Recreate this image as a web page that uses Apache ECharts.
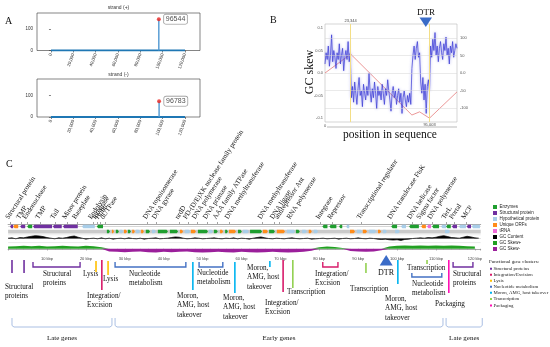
<!DOCTYPE html>
<html><head><meta charset="utf-8">
<script src="https://cdn.jsdelivr.net/npm/echarts@6/dist/echarts.min.js"></script>
<style>html,body{margin:0;padding:0;background:#fff}#c{width:550px;height:347px}</style>
</head><body><div id="c"></div>
<script>
// ================= DATA =================
// Panel A: read-mapping peaks per strand
const genomeLenBp = 121500;
const panelATicks = [0, 20000, 40000, 60000, 80000, 100000, 120000];
const plusPeakPos = [96544];
const plusPeakCount = [146];
const minusPeakPos = [96783];
const minusPeakCount = [73];

// Panel B: GC skew (1 kbp steps) and cumulative GC skew
const skewStepBp = 1000;
const gcSkew = [
  0.02, 0.045, 0.03, 0.06, 0.015, 0.04, 0.085, 0.025, 0.05, 0.035, 0.01, 0.045, 0.03, 0.065, 0.02, 0.04, 0.055, 0.005, 0.035, 0.05, 0.03, 0.07, 0.025, 0.045,
  -0.055, -0.03, -0.065, -0.02, -0.045, -0.07, -0.035, -0.01, -0.05, -0.04, -0.075, -0.025, -0.045, -0.06, -0.03, -0.05, 0.0, -0.04, -0.065, -0.035,
  -0.055, -0.02, -0.045, -0.08, -0.03, -0.05, -0.04, -0.06, -0.025, -0.045, -0.07, -0.035, -0.05, -0.015, -0.04, -0.06, -0.085, -0.045, -0.03, -0.055,
  -0.04, -0.07, -0.05, -0.035, -0.065, -0.045, -0.09, -0.055, -0.04, -0.06, -0.075, -0.05, -0.065, -0.045, -0.07,
  0.01, 0.04, 0.06, 0.03, 0.055, 0.07, 0.035, 0.045,
  -0.02, -0.045, -0.01, -0.06, -0.025, -0.09, -0.03, -0.015, -0.04,
  0.06, 0.035, 0.075, 0.05, 0.09, 0.04, 0.06, 0.025, 0.055, 0.07, 0.045, 0.03, 0.065, 0.05, 0.08, 0.04, 0.055, 0.02, 0.06, 0.045, 0.07, 0.035, 0.05, 0.065, 0.055
];
const cumSkewPos = [0, 23344, 79000, 86000, 95003, 120000];
const cumSkewVal = [0, 54, -120, -111, -129, -54];
const skewMarkPos = [23344, 95003];
const skewMarkText = ['23,344', '95,003'];
const skewLeftTicks = [-0.1, -0.05, 0, 0.05, 0.1];
const skewRightTicks = [-100, -50, 0, 50, 100];

// Panel C: GC skew track (2 kbp windows, smoother) and GC content deviation per kbp
const trackSkewStepKbp = 2;
const gcSkewTrack = [
  0.03, 0.035, 0.04, 0.035, 0.04, 0.03, 0.035, 0.04, 0.035, 0.03, 0.04, 0.035, 0.02,
  -0.035, -0.04, -0.045, -0.04, -0.035, -0.045, -0.05, -0.04, -0.045, -0.04, -0.035, -0.045, -0.05, -0.045,
  -0.04, -0.045, -0.05, -0.04, -0.045, -0.05, -0.045, -0.04, -0.045, -0.05, -0.045, -0.04, -0.025,
  0.02, 0.03, 0.025, 0.01,
  -0.03, -0.035, -0.04, -0.035, -0.02,
  0.03, 0.04, 0.045, 0.04, 0.045, 0.04, 0.045, 0.04, 0.045, 0.04, 0.035, 0.03
];
const gcContent = [
  0.1, 0.2, -0.1, 0.3, 0.2, 0.5, 0.7, 0.9, 0.8, 0.6, 0.3, 0.1, -0.1, 0.2, 0.1, 0.3, 0.6, 0.8, 0.4, 0.1, -0.2, 0.0, 0.1, -0.1, 0.2, -0.1,
  0.1, -0.2, 0.0, 0.1, -0.1, 0.2, 0.0, -0.1, 0.1, -0.2, 0.0, 0.1, 0.2, -0.1, 0.0, 0.1, 0.3, 0.5, 0.4, 0.1, -0.1, 0.0, 0.2, 0.1, -0.1, 0.0,
  0.1, 0.2, 0.0, -0.1, 0.1, 0.0, 0.2, -0.1, 0.1, 0.0, -0.2, 0.1, 0.3, 0.5, 0.2, 0.0, -0.1, 0.1, 0.0, -0.1, 0.1, 0.2, 0.0, -0.1, 0.0, 0.1, -0.2, -0.1,
  0.0, 0.1, -0.1, 0.0, 0.1, -0.2, 0.0, 0.1, -0.1, 0.0, 0.2, 0.0, -0.1, 0.1, 0.0, -0.2, -0.3, -0.2, -0.4, -0.5, -0.4, -0.6, -0.3, -0.2,
  0.0, 0.1, 0.2, 0.1, 0.3, 0.2, 0.4, 0.7, 0.9, 0.6, 0.3, 0.2, 0.1, 0.4, 0.7, 0.5, 0.2, 0.1
];
// genes: [start kbp, end kbp, category]  E=enzyme S=structural H=hypothetical U=unique ORF R=tRNA
const genesRow1 = [
  [0.5,1.3,'S'],[1.3,2.6,'U'],[3.1,4.4,'S'],[4.9,6.2,'E'],[6.4,11.3,'S'],[11.5,13.8,'S'],[14.1,17.9,'S'],[19.0,22.3,'H'],[22.8,24.4,'E'],
  [80.8,82.1,'E'],[82.6,84.4,'E'],[85.1,85.9,'E'],[86.9,87.7,'H'],
  [98.5,100.0,'E'],[101.0,102.3,'H'],[103.1,105.6,'E'],[106.2,107.4,'U'],[107.7,108.7,'R'],[109.0,110.8,'E'],[111.3,112.6,'H'],
  [112.6,113.8,'E'],[114.1,115.4,'S'],[115.9,117.7,'H'],[117.9,119.0,'S'],[119.2,121.3,'H']
];
const genesRow2 = [
  [25.4,26.2,'E'],[26.7,27.2,'U'],[27.7,28.5,'E'],[28.8,29.5,'H'],[29.8,30.6,'U'],[30.8,31.6,'E'],[31.9,32.6,'U'],[32.9,33.9,'H'],
  [34.2,34.9,'U'],[35.4,36.5,'E'],[37.0,38.0,'H'],[38.5,41.1,'E'],[41.6,43.7,'E'],[44.2,45.0,'U'],[45.5,46.8,'H'],[47.0,48.3,'U'],
  [48.8,51.4,'E'],[51.6,52.7,'H'],[52.9,53.9,'E'],[54.5,55.3,'U'],[55.8,56.5,'E'],[56.8,58.6,'U'],[59.1,60.1,'E'],[60.4,61.9,'H'],
  [62.2,65.3,'E'],[65.5,66.8,'U'],[67.1,68.6,'E'],[69.1,71.2,'U'],[71.7,73.8,'H'],[74.0,75.0,'E'],[75.6,76.8,'H'],[77.3,78.1,'U'],
  [78.6,79.7,'H'],[87.9,89.2,'U'],[89.7,91.0,'H'],[91.2,92.3,'U'],[92.8,94.6,'H'],[95.1,95.9,'U'],[96.4,97.4,'H'],[99.5,100.7,'H'],[112.3,113.6,'H']
];
const geneLabelKbp = [0.5,3.3,4.9,8.2,12.0,15.1,17.7,21.8,22.8,23.6,24.9,35.9,38.2,44.1,46.2,48.5,51.3,53.8,56.9,65.4,68.5,69.7,72.8,80.3,83.3,90.8,98.7,103.8,106.2,109.0,112.6,114.6,117.7];
const geneLabelText = ['Structural protein','TMP','Endonuclease','TMP','Tail','Minor protein','Baseplate','Endolysin','Integrase','Holin','dUTPase',
  'DNA topoisomerase','DNA gyrase','nrdD','PD-(D/E)XK nuclease family protein','DNA polymerase','DNA primase','AAA family ATPase','DNA methyltransferase',
  'DNA methyltransferase','DNA ligase','antirepressor Ant','RNA polymerase','Integrase','Repressor','Transcriptional regulator','DNA translocase FtsK',
  'DNA helicase','Sigma factor','DNA polymerase','TerL','Portal','MCP'];
const geneCatKeys = ['E','S','H','U','R'];
const trackLegendNames = ['Enzymes','Structural protein','Hypothetical protein','Unique ORFs','tRNA','GC Content','GC Skew+','GC Skew-'];

// functional clusters (S struct, I integration, L lysis, N nucleotide, M moron, T transcription, P packaging)
const clusterKeys = ['S','I','L','N','M','T','P'];
const clusterNames = ['Structural proteins','Integration/Excision','Lysis','Nucleotide metabolism','Moron, AMG, host takeover','Transcription','Packaging'];
const clusterBarKbp = [1.0, 4.1, 22.6, 24.1, 25.7, 47.5, 58.3, 67.3, 70.7, 73.2, 92.0, 100.2, 107.7, 113.3];
const clusterBarCat = ['S','S','L','I','L','M','M','M','I','T','T','M','T','P'];
const clusterBracketStart = [6.4, 27.5, 49.1, 80.9, 103.8, 114.4];
const clusterBracketEnd = [18.5, 45.7, 55.2, 84.8, 111.5, 119.5];
const clusterBracketCat = ['S','N','N','I','N','S'];
const clusterText = ['Structural\nproteins','Structural\nproteins','Lysis','Lysis','Integration/\nExcision','Nucleotide\nmetabolism',
  'Moron,\nAMG, host\ntakeover','Nucleotide\nmetabolism','Moron,\nAMG, host\ntakeover','Moron,\nAMG, host\ntakeover','Integration/\nExcision',
  'Transcription','Integration/\nExcision','Transcription','DTR','Moron,\nAMG, host\ntakeover','Transcription','Nucleotide\nmetabolism','Packaging','Structural\nproteins'];
const dtrKbp = 97.2;
const geneGroupStart = [1.0, 27.5, 112.6];
const geneGroupEnd = [26.7, 111.8, 121.9];
const geneGroupName = ['Late genes','Early genes','Late genes'];

// ================= LAYOUT / STYLE =================
const serif = '"Liberation Serif","Times New Roman",serif';
const sans = '"Liberation Sans",Arial,sans-serif';
const geneColors = ['#1f9e2f','#7030a0','#a8cde8','#ff8c1a','#f06ad8'];
const trackLegendColors = ['#1f9e2f','#7030a0','#a8cde8','#ff8c1a','#f06ad8','#000000','#22a022','#9b1f9b'];
const clusterColors = ['#7030a0','#d81b6a','#ffc000','#4472c4','#00b4f0','#92d050','#ff10b4'];
const clusterBarY = [[260,273],[260,273],[261,272],[260,290],[261,275],[262,290],[262,293],[261,267],[260,292],[260,288],[263,273],[260,284],[260,264],[260,293]];
const clusterBracketY = [[262,267],[262,267],[262,267],[262,267],[273,277],[262,267]];
const clusterTextPos = [[5,282],[43,269],[83,269],[103,274],[87,291],[129,269],[177,291],[197,268],[223,293],[247,263],[265,298],
  [287,287],[315,269],[350,284],[378,268],[385,294],[407,263],[412,279],[435,299],[453,269]];

const G = {left: 8.1, width: 472.6};

const skewPos = gcSkewTrack.map(v => Math.max(v, 0));
const skewNeg = gcSkewTrack.map(v => Math.min(v, 0));
const geneData = genesRow1.map(g => [g[0], g[1], 0.5, geneCatKeys.indexOf(g[2])])
  .concat(genesRow2.map(g => [g[0], g[1], 1.5, geneCatKeys.indexOf(g[2])]));

function stemX(gi) {
  return {gridIndex: gi, type: 'value', min: -12500, max: 133400,
    axisLine: {show: false}, splitLine: {show: false},
    axisTick: {customValues: panelATicks, length: 2, lineStyle: {color: '#333', width: 0.6}},
    axisLabel: {customValues: panelATicks, rotate: 70, fontSize: 4.5, margin: 3, color: '#333', fontFamily: sans}};
}
function stemY(gi) {
  return {gridIndex: gi, type: 'value', min: 0, max: 175,
    axisLine: {show: false}, splitLine: {show: false},
    axisTick: {customValues: [0, 100], length: 2, lineStyle: {color: '#333', width: 0.6}},
    axisLabel: {customValues: [0, 100], fontSize: 4.5, margin: 4, color: '#333', fontFamily: sans}};
}
function stemSeries(xi, pos, cnt) {
  return [
    {type: 'line', xAxisIndex: xi, yAxisIndex: xi, data: [[0, 0], [genomeLenBp - 1500, 0]], symbol: 'none',
     lineStyle: {color: '#1f77b4', width: 2}, z: 2},
    {type: 'line', xAxisIndex: xi, yAxisIndex: xi, data: pos.flatMap((p, i) => [[p, 0], [p, cnt[i]]]), symbol: 'none',
     lineStyle: {color: '#4f97d2', width: 1.4}, z: 3},
    {type: 'scatter', xAxisIndex: xi, yAxisIndex: xi, data: pos.map((p, i) => [p, cnt[i]]), symbolSize: 4,
     itemStyle: {color: '#e8231f'}, z: 4,
     label: {show: true, position: 'right', distance: 3, formatter: p => String(p.value[0]),
       backgroundColor: '#fff', borderColor: '#777', borderWidth: 0.6, borderRadius: 2, padding: [1.5, 2, 1, 2],
       fontSize: 7, fontFamily: sans, color: '#222'}}
  ];
}

const option = {
  animation: false,
  backgroundColor: '#fff',
  grid: [
    {left: 37, top: 13, width: 163, height: 37.5, show: true, borderColor: '#333', borderWidth: 0.6},
    {left: 37, top: 79, width: 163, height: 38, show: true, borderColor: '#333', borderWidth: 0.6},
    {left: 325, top: 24, width: 132, height: 98, show: true, borderColor: '#bbb', borderWidth: 0.6},
    {left: G.left, top: 224, width: G.width, height: 10},
    {left: G.left, top: 235, width: G.width, height: 7},
    {left: G.left, top: 243.5, width: G.width, height: 10.5}
  ],
  xAxis: [
    stemX(0), stemX(1),
    {gridIndex: 2, type: 'value', min: 0, max: 120000, axisLine: {show: false}, axisTick: {show: false}, splitLine: {show: false},
     axisLabel: {customValues: [0], fontSize: 4, margin: 2, color: '#555', fontFamily: sans}},
    {gridIndex: 3, type: 'value', min: 0, max: 121.5, position: 'top', offset: 2,
     axisLine: {show: true, lineStyle: {color: '#aaa', width: 1}},
     axisTick: {show: true, customValues: geneLabelKbp, length: 2, lineStyle: {color: '#666', width: 0.6}},
     axisLabel: {show: false}, splitLine: {show: false}},
    {gridIndex: 4, type: 'value', min: 0, max: 121.5, show: false},
    {gridIndex: 5, type: 'value', min: 0, max: 121.5, interval: 10, position: 'bottom',
     axisLine: {show: true, lineStyle: {color: '#aaa', width: 1}},
     axisTick: {show: true, length: 1.8, lineStyle: {color: '#888', width: 0.6}},
     minorTick: {show: true, splitNumber: 5, length: 1, lineStyle: {color: '#999', width: 0.5}},
     axisLabel: {showMaxLabel: false, formatter: v => v === 0 ? '' : v + ' kbp', fontSize: 4, margin: 3, color: '#444', fontFamily: sans},
     splitLine: {show: false}}
  ],
  yAxis: [
    stemY(0), stemY(1),
    {gridIndex: 2, type: 'value', min: -0.109, max: 0.109, axisLine: {show: false}, axisTick: {show: false}, splitLine: {show: false},
     axisLabel: {customValues: skewLeftTicks, formatter: v => v === 0 ? '0.0' : String(v), fontSize: 4, margin: 2, color: '#555', fontFamily: sans}},
    {gridIndex: 2, type: 'value', position: 'right', min: -140, max: 140, axisLine: {show: false}, axisTick: {show: false}, splitLine: {show: false},
     axisLabel: {customValues: skewRightTicks, formatter: v => v === 0 ? '0.0' : String(v), fontSize: 4, margin: 3, color: '#555', fontFamily: sans}},
    {gridIndex: 3, type: 'value', min: 0, max: 2, inverse: true, show: false},
    {gridIndex: 4, type: 'value', min: -1.1, max: 1.1, show: false},
    {gridIndex: 5, type: 'value', min: -0.07, max: 0.07, show: false}
  ],
  series: [
    ...stemSeries(0, plusPeakPos, plusPeakCount),
    ...stemSeries(1, minusPeakPos, minusPeakCount),
    {type: 'line', xAxisIndex: 2, yAxisIndex: 3, z: 1, symbol: 'none',
     data: cumSkewPos.map((p, i) => [p, cumSkewVal[i]]),
     lineStyle: {color: '#e26a6a', width: 0.7},
     markLine: {silent: true, symbol: ['none', 'none'], label: {show: false},
       lineStyle: {color: '#d4d4d4', width: 0.5, type: 'solid'},
       data: skewRightTicks.map(v => ({yAxis: v}))}},
    {type: 'line', xAxisIndex: 2, yAxisIndex: 2, z: 3, symbol: 'none',
     data: gcSkew.map((v, i) => [i * skewStepBp, v]),
     lineStyle: {color: '#3838d4', width: 0.7, shadowColor: 'rgba(90,90,225,0.7)', shadowBlur: 3},
     markLine: {silent: true, symbol: ['none', 'none'],
       lineStyle: {color: '#f3de86', width: 1, type: 'solid'},
       label: {fontSize: 4, color: '#444', fontFamily: sans},
       data: [{xAxis: skewMarkPos[0], label: {formatter: skewMarkText[0], position: 'end', distance: 1}},
              {xAxis: skewMarkPos[1], label: {formatter: skewMarkText[1], position: 'start', distance: 1}}]}},
    {type: 'custom', xAxisIndex: 3, yAxisIndex: 4, z: 5, data: geneData, encode: {x: [0, 1], y: 2},
     renderItem: (params, api) => {
       const row = api.value(2);
       const a = api.coord([api.value(0), row]);
       const b = api.coord([api.value(1), row]);
       const h = 3.6, y0 = a[1] - h / 2, y1 = a[1] + h / 2;
       const w = b[0] - a[0], t = Math.min(1.4, w * 0.4);
       const pts = row < 1
         ? [[a[0], a[1]], [a[0] + t, y0], [b[0], y0], [b[0], y1], [a[0] + t, y1]]
         : [[a[0], y0], [b[0] - t, y0], [b[0], a[1]], [b[0] - t, y1], [a[0], y1]];
       return {type: 'polygon', shape: {points: pts}, style: {fill: geneColors[api.value(3)]}};
     }},
    {type: 'line', xAxisIndex: 4, yAxisIndex: 5, symbol: 'none', z: 5,
     data: gcContent.map((v, i) => [i, v]),
     lineStyle: {color: '#000', width: 0.7}, areaStyle: {color: '#000', origin: 0, opacity: 1}},
    {type: 'line', xAxisIndex: 5, yAxisIndex: 6, symbol: 'none', z: 5,
     data: skewPos.map((v, i) => [i * trackSkewStepKbp, v]),
     lineStyle: {width: 0}, areaStyle: {color: '#22a022', origin: 0, opacity: 1}},
    {type: 'line', xAxisIndex: 5, yAxisIndex: 6, symbol: 'none', z: 5,
     data: skewNeg.map((v, i) => [i * trackSkewStepKbp, v]),
     lineStyle: {width: 0}, areaStyle: {color: '#9b1f9b', origin: 0, opacity: 1}}
  ]
};

const chart = echarts.init(document.getElementById('c'), null, {renderer: 'canvas'});
chart.setOption(option);

const kx = k => chart.convertToPixel({xAxisIndex: 3}, k);
const gr = [];
const txt = (text, x, y, size, opt = {}) => gr.push(Object.assign({type: 'text', x, y, z: 10,
  style: Object.assign({text, x: 0, y: 0, fill: '#111', font: size + 'px ' + serif, textAlign: 'left', textVerticalAlign: 'middle'}, opt.style || {})},
  opt.el || {}));

// panel letters and titles
txt('A', 5, 21, 10);
txt('B', 270, 20, 10);
txt('C', 6, 164, 10);
txt('strand (+)', 118.5, 7.5, 5, {style: {textAlign: 'center', font: '5px ' + sans, fill: '#333'}});
txt('strand (-)', 118.5, 74.5, 5, {style: {textAlign: 'center', font: '5px ' + sans, fill: '#333'}});
// panel B extras
txt('DTR', 426, 13, 9, {style: {textAlign: 'center'}});
gr.push({type: 'polygon', z: 10, shape: {points: [[419.5, 17.5], [432, 17.5], [425.8, 27]]}, style: {fill: '#3a6cc8'}});
txt('GC skew', 310, 72, 12, {style: {textAlign: 'center'}, el: {rotation: Math.PI / 2}});
gr.push({type: 'line', z: 10, shape: {x1: 327, y1: 127, x2: 457, y2: 127}, style: {stroke: '#aaa', lineWidth: 0.8}});
txt('position in sequence', 390, 135, 11.5, {style: {textAlign: 'center'}});

// genome backbones / separators
const gx0 = kx(0), gx1 = kx(121.5);
gr.push({type: 'line', z: 1, shape: {x1: gx0, y1: 226.5, x2: gx1, y2: 226.5}, style: {stroke: '#c4c4c4', lineWidth: 0.7}});
gr.push({type: 'rect', z: 1, shape: {x: gx0, y: 229.8, width: gx1 - gx0, height: 3.6}, style: {fill: '#cacaca'}});
[234.8, 242.6].forEach(y => gr.push({type: 'line', z: 1, shape: {x1: gx0, y1: y, x2: gx1, y2: y}, style: {stroke: '#dcdcdc', lineWidth: 0.6}}));
gr.push({type: 'line', z: 1, shape: {x1: gx0, y1: 238.5, x2: gx1, y2: 238.5}, style: {stroke: '#999', lineWidth: 0.4}});

// rotated gene labels
geneLabelKbp.forEach((k, i) => {
  gr.push({type: 'text', x: kx(k), y: 220.5, rotation: 57 * Math.PI / 180, z: 10,
    style: {text: geneLabelText[i], x: 0, y: 0, fill: '#111', font: '7px ' + serif, textAlign: 'left', textVerticalAlign: 'bottom'}});
});

// cluster bars & brackets
clusterBarKbp.forEach((k, i) => {
  const x = kx(k);
  gr.push({type: 'line', z: 10, shape: {x1: x, y1: clusterBarY[i][0], x2: x, y2: clusterBarY[i][1]},
    style: {stroke: clusterColors[clusterKeys.indexOf(clusterBarCat[i])], lineWidth: 1.6}});
});
clusterBracketStart.forEach((k, i) => {
  const x1 = kx(k), x2 = kx(clusterBracketEnd[i]), y = clusterBracketY[i];
  gr.push({type: 'polyline', z: 10, shape: {points: [[x1, y[0]], [x1, y[1]], [x2, y[1]], [x2, y[0]]]},
    style: {stroke: clusterColors[clusterKeys.indexOf(clusterBracketCat[i])], lineWidth: 1.4, fill: null}});
});
clusterText.forEach((t, i) => {
  gr.push({type: 'text', x: clusterTextPos[i][0], y: clusterTextPos[i][1], z: 10,
    style: {text: t, x: 0, y: 0, fill: '#111', font: (t === 'DTR' ? 8 : 7.2) + 'px ' + serif, lineHeight: 9.5,
      textAlign: 'left', textVerticalAlign: 'top'}});
});
// DTR triangle in C
{
  const x = kx(dtrKbp);
  gr.push({type: 'polygon', z: 10, shape: {points: [[x - 6.5, 265.5], [x + 6.5, 265.5], [x, 255]]}, style: {fill: '#3a6cc8'}});
}
// late / early gene brackets
geneGroupStart.forEach((k, i) => {
  const x1 = kx(k), x2 = kx(geneGroupEnd[i]);
  gr.push({type: 'polyline', z: 10, shape: {points: [[x1, 318], [x1, 325.5], [x1 + 2, 327], [x2 - 2, 327], [x2, 325.5], [x2, 318]]},
    style: {stroke: '#aabfe3', lineWidth: 1, fill: null}});
  gr.push({type: 'text', x: (x1 + x2) / 2, y: 338, z: 10,
    style: {text: geneGroupName[i], x: 0, y: 0, fill: '#111', font: '7px ' + serif, textAlign: 'center', textVerticalAlign: 'middle'}});
});

// track legend
const trackLegY = [207, 213, 219, 225, 231, 237, 243, 249];
trackLegendNames.forEach((n, i) => {
  gr.push({type: 'rect', z: 10, shape: {x: 493, y: trackLegY[i] - 2, width: 4, height: 4}, style: {fill: trackLegendColors[i]}});
  gr.push({type: 'text', x: 499.5, y: trackLegY[i], z: 10,
    style: {text: n, x: 0, y: 0, fill: '#222', font: '4.5px ' + sans, textAlign: 'left', textVerticalAlign: 'middle'}});
});
// cluster legend
txt('Functional gene clusters:', 489, 262, 5, {style: {font: '5px ' + serif}});
const clLegY = [268.7, 274.7, 280.7, 286.7, 292.7, 299, 305.5];
clusterNames.forEach((n, i) => {
  gr.push({type: 'rect', z: 10, shape: {x: 490, y: clLegY[i] - 1, width: 2, height: 2}, style: {fill: clusterColors[i]}});
  gr.push({type: 'text', x: 493.5, y: clLegY[i], z: 10,
    style: {text: n, x: 0, y: 0, fill: '#222', font: '4.8px ' + serif, textAlign: 'left', textVerticalAlign: 'middle'}});
});

chart.setOption({graphic: {elements: gr}});
</script>
</body></html>
